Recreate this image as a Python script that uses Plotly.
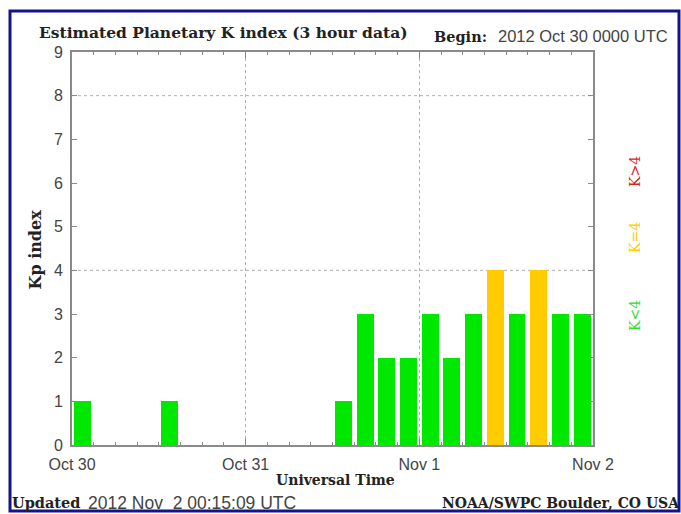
import plotly.graph_objects as go
import pandas as pd

# 3-hour Kp values starting 2012 Oct 30 00 UTC
kp_values = [1, 0, 0, 0, 1, 0, 0, 0,
             0, 0, 0, 0, 1, 3, 2, 2,
             3, 2, 3, 4, 3, 4, 3, 3]
start = "2012-10-30 00:00"
slot_hours = 3
x_ticks = ["2012-10-30", "2012-10-31", "2012-11-01", "2012-11-02"]
x_ticklabels = ["Oct 30", "Oct 31", "Nov 1", "Nov 2"]

GREEN = "#00e800"
YELLOW = "#ffcc00"
RED = "#dd2222"

times = pd.date_range(start, periods=len(kp_values), freq=f"{slot_hours}h") + pd.Timedelta(hours=slot_hours / 2)
colors = [RED if v > 4 else (YELLOW if v == 4 else GREEN) for v in kp_values]
ms3h = slot_hours * 3600 * 1000

fig = go.Figure(go.Bar(
    x=times, y=kp_values, marker=dict(color=colors, line=dict(width=0)),
    width=[ms3h * 0.78] * len(kp_values),
))

AX = "#8a8a8a"
TICKFONT = dict(family="Liberation Sans", size=16, color="#444444")
fig.update_layout(
    width=681, height=514,
    margin=dict(l=72, r=88, t=52, b=69),
    paper_bgcolor="white", plot_bgcolor="white",
    showlegend=False,
    xaxis=dict(
        type="date", range=["2012-10-30", "2012-11-02"],
        tickvals=x_ticks, ticktext=x_ticklabels,
        ticks="inside", ticklen=6, tickcolor=AX, tickwidth=1,
        minor=dict(dtick=ms3h, ticks="inside", ticklen=3, tickcolor=AX, showgrid=False),
        showgrid=True, gridcolor="#b0b0b0", griddash="dot", gridwidth=1,
        showline=True, linecolor=AX, linewidth=2, mirror="ticks",
        tickfont=TICKFONT, zeroline=False, ticklabelstandoff=4,
    ),
    yaxis=dict(
        range=[0, 9], dtick=1, tick0=0,
        ticks="inside", ticklen=5, tickcolor=AX, tickwidth=1,
        showgrid=False, showline=True, linecolor=AX, linewidth=2, mirror="ticks",
        tickfont=TICKFONT, zeroline=False, ticklabelstandoff=4,
    ),
    bargap=0,
)

for yv in [4, 8]:
    fig.add_shape(type="line", xref="paper", yref="y", x0=0, x1=1, y0=yv, y1=yv,
                  line=dict(color="#b0b0b0", width=1, dash="dot"), layer="below")

def px_x(p):
    return (p - 72) / 521
def px_y(p):
    return (445 - p) / 393

# outer navy frame
fig.add_shape(type="rect", xref="paper", yref="paper",
              x0=px_x(10), x1=px_x(679), y0=px_y(511), y1=px_y(11),
              line=dict(color="#14148a", width=3), fillcolor="rgba(0,0,0,0)")

SERIF_B = "DejaVu Serif"

ann = [
    dict(text="<b>Estimated Planetary K index (3 hour data)</b>", x=px_x(37), y=px_y(33),
         xanchor="left", font=dict(family=SERIF_B, size=15.5, color="#222")),
    dict(text="<b>Begin:</b>", x=px_x(432), y=px_y(36), xanchor="left",
         font=dict(family=SERIF_B, size=14.5, color="#222")),
    dict(text="2012 Oct 30 0000 UTC", x=px_x(496), y=px_y(36), xanchor="left",
         font=dict(family="Liberation Sans", size=16.5, color="#444")),
    dict(text="<b>Kp index</b>", x=px_x(24), y=px_y(250), textangle=-90,
         font=dict(family=SERIF_B, size=16, color="#222")),
    dict(text="<b>Universal Time</b>", x=px_x(335), y=px_y(480),
         font=dict(family=SERIF_B, size=14, color="#222")),
    dict(text="<b>Updated</b>", x=px_x(10), y=px_y(503), xanchor="left",
         font=dict(family=SERIF_B, size=14.5, color="#222")),
    dict(text="2012 Nov&nbsp; 2 00:15:09 UTC", x=px_x(86), y=px_y(503), xanchor="left",
         font=dict(family="Liberation Sans", size=17.5, color="#444")),
    dict(text="<b>NOAA/SWPC Boulder, CO USA</b>", x=px_x(440), y=px_y(503), xanchor="left",
         font=dict(family=SERIF_B, size=14, color="#222")),
    dict(text="K&gt;4", x=px_x(645), y=px_y(172), textangle=-90,
         font=dict(family="DejaVu Serif", size=14, color=RED)),
    dict(text="K=4", x=px_x(645), y=px_y(238), textangle=-90,
         font=dict(family="DejaVu Serif", size=14, color=YELLOW)),
    dict(text="K&lt;4", x=px_x(645), y=px_y(316), textangle=-90,
         font=dict(family="DejaVu Serif", size=14, color="#33dd33")),
]
for a in ann:
    fig.add_annotation(xref="paper", yref="paper", showarrow=False, yanchor="middle", **a)

fig.write_html("out.html", config={"displayModeBar": False},
               post_script="document.body.style.margin='0px';document.body.style.overflow='hidden';")
